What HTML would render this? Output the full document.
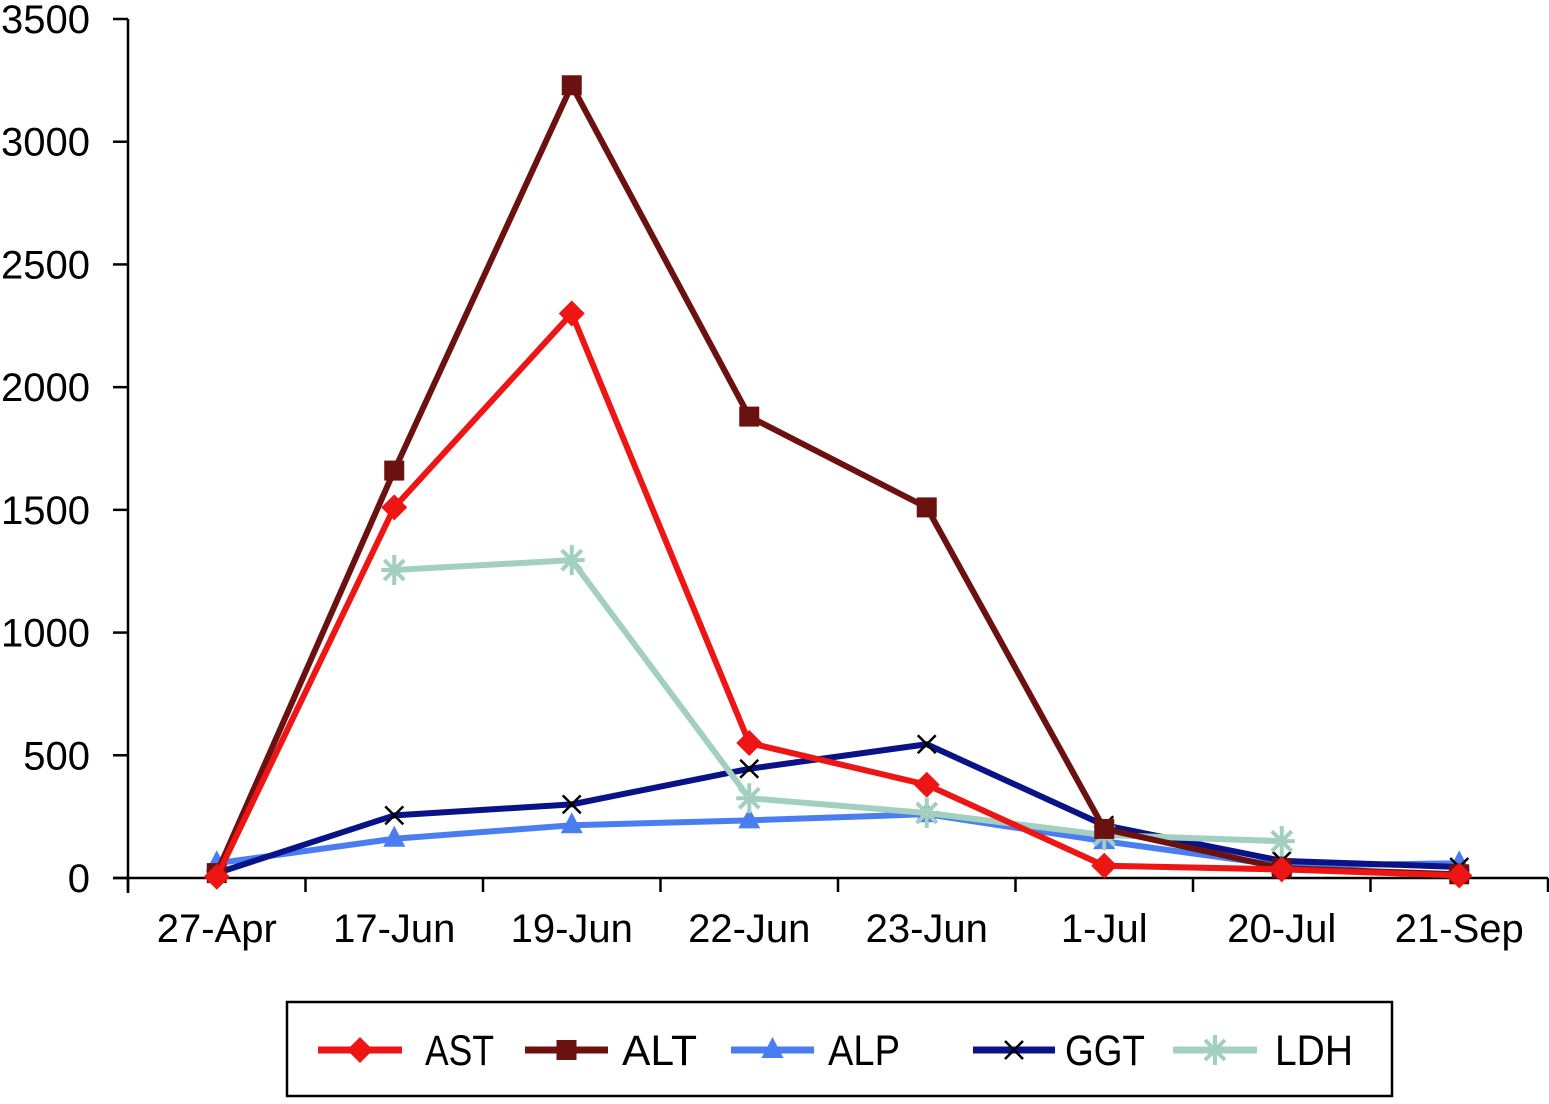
<!DOCTYPE html>
<html><head><meta charset="utf-8"><style>
body{margin:0;background:#fff}
svg text{font-family:"Liberation Sans",Arial,sans-serif;fill:#000}
</style></head><body>
<svg id="c" width="1549" height="1099" viewBox="0 0 1549 1099"></svg>
<script>
const categories=["27-Apr","17-Jun","19-Jun","22-Jun","23-Jun","1-Jul","20-Jul","21-Sep"];
const yTicks=[0,500,1000,1500,2000,2500,3000,3500];
const astValues=[5,1510,2300,550,380,50,35,10];
const altValues=[20,1660,3230,1880,1510,200,40,15];
const alpValues=[60,160,215,235,260,150,50,60];
const ggtValues=[20,255,300,445,545,215,70,45];
const ldhValues=[null,1255,1295,325,265,175,150,null];
const seriesNames=["AST","ALT","ALP","GGT","LDH"];
const NS="http://www.w3.org/2000/svg";
const svg=document.getElementById('c');
const X0=128,X1=1548,Y0=878,Y1=19,YMAX=3500;
const bw=(X1-X0)/categories.length;
function xs(i){return X0+bw*(i+0.5);}
function ys(v){return Y0-(v/YMAX)*(Y0-Y1);}
function el(t,a,p){const e=document.createElementNS(NS,t);for(const k in a)e.setAttribute(k,a[k]);(p||svg).appendChild(e);return e;}
const ya=el('line',{x1:X0,y1:Y1,x2:X0,y2:Y0+15,stroke:'#000','stroke-width':2.5});


const xa=el('line',{x1:X0-15,y1:Y0,x2:X1,y2:Y0,stroke:'#000','stroke-width':2.5});


yTicks.forEach(v=>{
 el('line',{x1:X0-15,y1:ys(v),x2:X0,y2:ys(v),stroke:'#000','stroke-width':2.5});
 const t=el('text',{x:90,y:ys(v)+14,'text-anchor':'end','font-size':40});
 t.textContent=v;
 
 
});
for(let i=0;i<=categories.length;i++){el('line',{x1:X0+bw*i,y1:Y0,x2:X0+bw*i,y2:Y0+14,stroke:'#000','stroke-width':2.5});}
categories.forEach((c,i)=>{
 const t=el('text',{x:xs(i),y:942,'text-anchor':'middle','font-size':40});
 t.textContent=c;
 
 
});
function marker(type,x,y,col,g){
 if(type==='diamond')el('polygon',{points:`${x},${y-13} ${x+13},${y} ${x},${y+13} ${x-13},${y}`,fill:col},g);
 else if(type==='square')el('rect',{x:x-10,y:y-10,width:20,height:20,fill:col},g);
 else if(type==='triangle')el('polygon',{points:`${x},${y-13} ${x+11},${y+8} ${x-11},${y+8}`,fill:col},g);
 else if(type==='x'){el('path',{d:`M${x-9} ${y-9}L${x+9} ${y+9}M${x+9} ${y-9}L${x-9} ${y+9}`,stroke:'#000','stroke-width':2.5},g);}
 else if(type==='star'){el('path',{d:`M${x-13} ${y}L${x+13} ${y}M${x} ${y-15}L${x} ${y+15}M${x-10} ${y-10}L${x+10} ${y+10}M${x+10} ${y-10}L${x-10} ${y+10}`,stroke:col,'stroke-width':4},g);}
}
const series=[
 {vals:alpValues,col:'#4a7ef0',m:'triangle',n:'alp'},
 {vals:ggtValues,col:'#0a1288',m:'x',n:'ggt'},
 {vals:ldhValues,col:'#a2cfc0',m:'star',n:'ldh'},
 {vals:altValues,col:'#6b1210',m:'square',n:'alt'},
 {vals:astValues,col:'#ee1515',m:'diamond',n:'ast'}
];
series.forEach(s=>{
 const g=el('g',{});
 
 
 let d='';
 s.vals.forEach((v,i)=>{if(v==null)return;d+=(d?'L':'M')+xs(i)+' '+ys(v);});
 el('path',{d:d,fill:'none',stroke:s.col,'stroke-width':6,'stroke-linejoin':'round'},g);
 s.vals.forEach((v,i)=>{if(v!=null)marker(s.m,xs(i),ys(v),s.col,g);});
});
const lg=el('g',{});


el('rect',{x:287,y:1002,width:1105,height:94,fill:'none',stroke:'#000','stroke-width':2.5},lg);
const leg=[
 {n:'AST',col:'#ee1515',m:'diamond',x1:318,x2:402,tx:425,w:69},
 {n:'ALT',col:'#6b1210',m:'square',x1:525,x2:608,tx:622,w:75},
 {n:'ALP',col:'#4a7ef0',m:'triangle',x1:731,x2:814,tx:828,w:72},
 {n:'GGT',col:'#0a1288',m:'x',x1:973,x2:1055,tx:1065,w:80},
 {n:'LDH',col:'#a2cfc0',m:'star',x1:1173,x2:1257,tx:1275,w:78}
];
leg.forEach(l=>{
 const g=el('g',{},lg);
 
 
 el('line',{x1:l.x1,y1:1050,x2:l.x2,y2:1050,stroke:l.col,'stroke-width':7},g);
 marker(l.m,(l.x1+l.x2)/2,1050,l.col,g);
 const t=el('text',{x:l.tx,y:1065,'font-size':43,textLength:l.w,lengthAdjust:'spacingAndGlyphs'},g);
 t.textContent=l.n;
});
</script>
</body></html>
